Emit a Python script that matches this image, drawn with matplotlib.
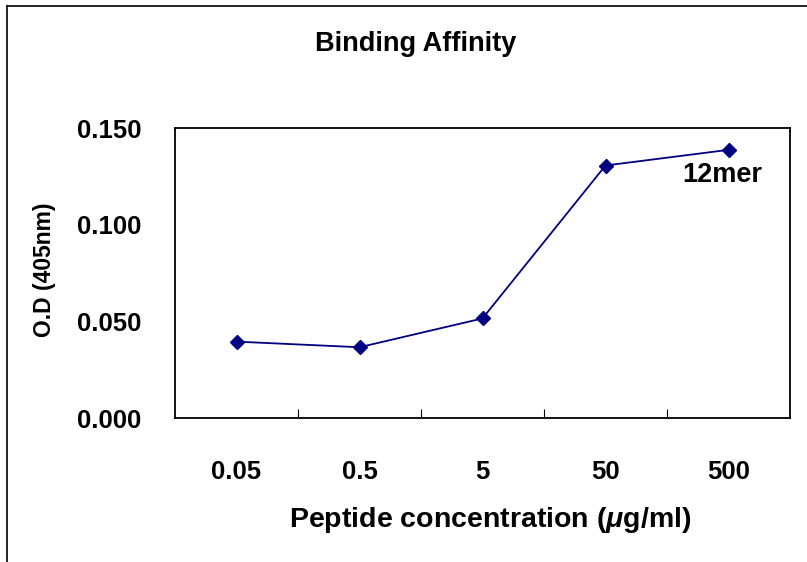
"""
Binding affinity of the 12mer peptide: O.D at 405nm against peptide concentration.
"""

import matplotlib
matplotlib.use('Agg')
import matplotlib.pyplot as plt
from matplotlib.lines import Line2D

concentrations = ['0.05', '0.5', '5', '50', '500']
od_12mer = [0.0395, 0.0366, 0.0515, 0.1306, 0.1387]
y_ticks = [0.0, 0.05, 0.10, 0.15]

plt.rcParams['font.family'] = ['Liberation Sans', 'DejaVu Sans']
plt.rcParams['font.weight'] = 'bold'
plt.rcParams['mathtext.fontset'] = 'custom'
plt.rcParams['mathtext.it'] = 'Liberation Sans:italic:bold'
plt.rcParams['mathtext.rm'] = 'Liberation Sans:bold'

fig = plt.figure(figsize=(8.07, 5.62), dpi=100)
ax = fig.add_axes([175 / 807, 1 - 418 / 562, 615 / 807, 290 / 562])

x = list(range(len(concentrations)))
ax.plot(x, od_12mer, color='#000080', linewidth=1.3, marker='D',
        markersize=7.5, markerfacecolor='#000080', markeredgecolor='#000080')

ax.set_xlim(-0.5, len(concentrations) - 0.5)
ax.set_ylim(0, 0.15)
ax.set_yticks(y_ticks)
ax.set_yticklabels(['%.3f' % v for v in y_ticks])

# labels sit at the category centres, tick marks between categories
ax.set_xticks(x)
ax.set_xticklabels(concentrations)
ax.set_xticks([i + 0.5 for i in x[:-1]], minor=True)
ax.tick_params(axis='x', which='major', length=0, pad=30, labelsize=18.5)
ax.tick_params(axis='x', which='minor', direction='in', length=6.5, width=0.8)
ax.tick_params(axis='y', length=0, pad=24, labelsize=18.5)

for spine in ax.spines.values():
    spine.set_linewidth(1.3)

ax.text(x[-1] - 0.05, od_12mer[-1] - 0.013, '12mer', fontsize=19.5,
        fontweight='bold', ha='center', va='center')

fig.text(416 / 807, 1 - 44 / 562, 'Binding Affinity', fontsize=19.5,
         fontweight='bold', ha='center', va='center')
fig.text(490 / 807, 1 - 520 / 562, r'Peptide concentration ($\mu$g/ml)',
         fontsize=20.5, fontweight='bold', ha='center', va='center')
fig.text(45 / 807, 1 - 270 / 562, 'O.D (405nm)', fontsize=16.5,
         fontweight='bold', ha='center', va='center', rotation=90)

# outer chart border (top and left edges only are visible)
fig.add_artist(Line2D([7 / 807, 1], [1 - 6 / 562, 1 - 6 / 562],
                      color='black', linewidth=1.2, transform=fig.transFigure))
fig.add_artist(Line2D([7 / 807, 7 / 807], [0, 1 - 6 / 562],
                      color='black', linewidth=1.2, transform=fig.transFigure))

plt.savefig('out.png', dpi=100)
